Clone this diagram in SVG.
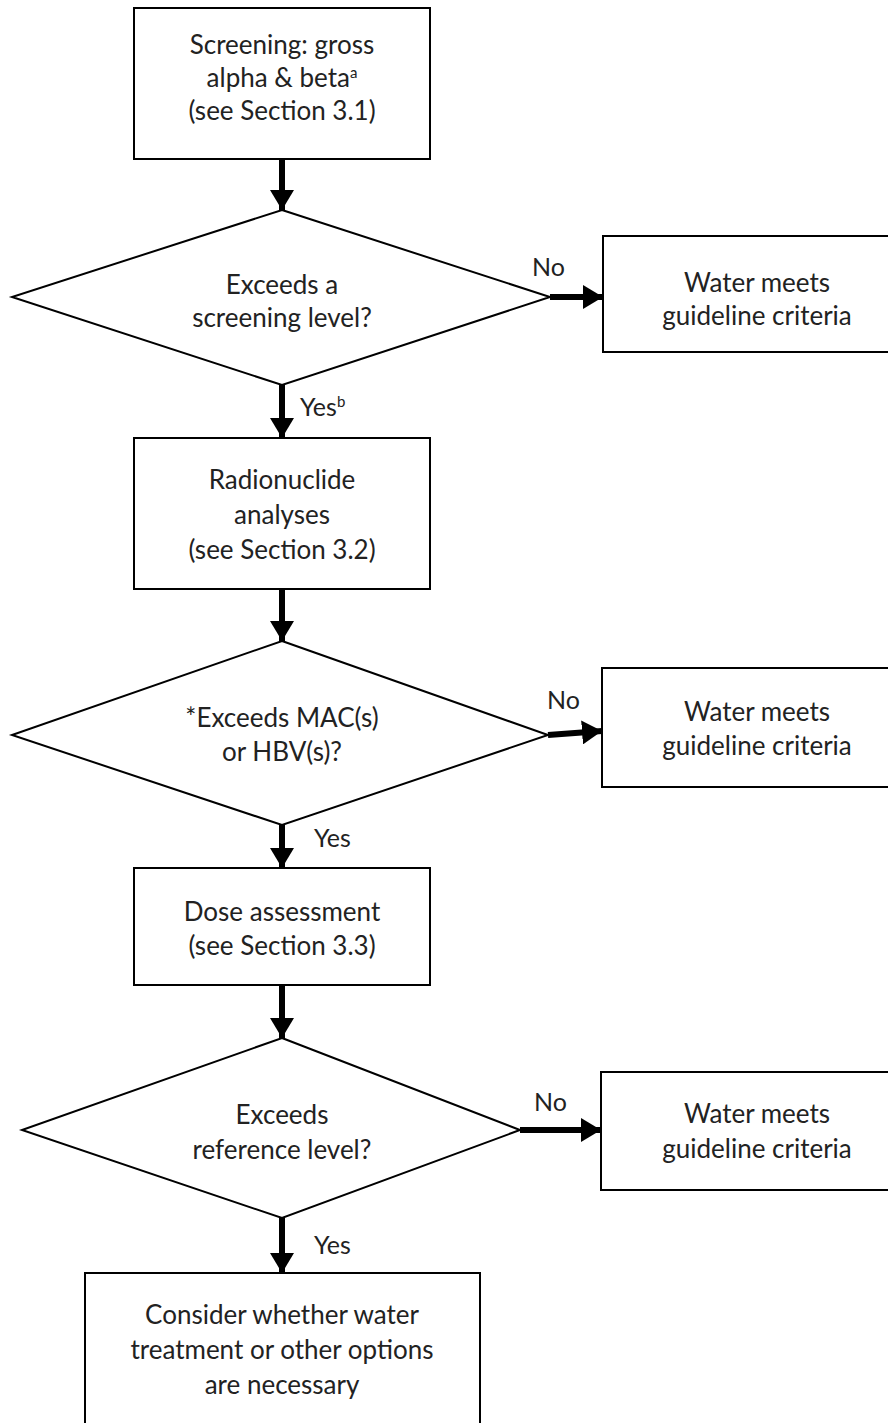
<svg xmlns="http://www.w3.org/2000/svg" width="888" height="1423" viewBox="0 0 888 1423">
<style>
.box{fill:#fff;stroke:#000;stroke-width:2}
.t{font-family:Lato,"Liberation Sans",sans-serif;font-size:26px;fill:#222;text-anchor:middle}
.l{font-family:Lato,"Liberation Sans",sans-serif;font-size:25px;fill:#222}
.sup{font-size:15px}
.c{stroke:#000;stroke-width:6;fill:none}
</style>
<defs>
<marker id="ah" markerUnits="userSpaceOnUse" markerWidth="22" markerHeight="24" refX="20" refY="12" orient="auto">
<path d="M0,0 L20,12 L0,24 z" fill="#000"/>
</marker>
</defs>
<g id="connectors">
<line class="c" x1="282" y1="159" x2="282" y2="210" marker-end="url(#ah)"/>
<line class="c" x1="550" y1="297" x2="603" y2="297" marker-end="url(#ah)"/>
<line class="c" x1="282" y1="385" x2="282" y2="438" marker-end="url(#ah)"/>
<line class="c" x1="282" y1="589" x2="282" y2="641" marker-end="url(#ah)"/>
<line class="c" x1="548" y1="735" x2="602" y2="731" marker-end="url(#ah)"/>
<line class="c" x1="282" y1="818" x2="282" y2="868" marker-end="url(#ah)"/>
<line class="c" x1="282" y1="985" x2="282" y2="1038" marker-end="url(#ah)"/>
<line class="c" x1="520" y1="1130" x2="601" y2="1130" marker-end="url(#ah)"/>
<line class="c" x1="282" y1="1218" x2="282" y2="1273" marker-end="url(#ah)"/>
<text class="l" x="532" y="276">No</text>
<text class="l" x="300" y="416">Yes<tspan class="sup" dy="-9">b</tspan></text>
<text class="l" x="547" y="709">No</text>
<text class="l" x="314" y="847">Yes</text>
<text class="l" x="534" y="1111">No</text>
<text class="l" x="314" y="1254">Yes</text>
</g>
<g id="screening">
<rect class="box" x="134" y="8" width="296" height="151"/>
<text class="t" x="282" y="54">Screening: gross</text>
<text class="t" x="282" y="87">alpha &amp; beta<tspan class="sup" dy="-9">a</tspan></text>
<text class="t" x="282" y="120">(see Section 3.1)</text>
</g>
<g id="decision1">
<polygon class="box" points="282,210 550,297 282,385 12,297"/>
<text class="t" x="282" y="294">Exceeds a</text>
<text class="t" x="282" y="327">screening level?</text>
</g>
<g id="meets1">
<rect class="box" x="603" y="236" width="290" height="116"/>
<text class="t" x="757" y="292">Water meets</text>
<text class="t" x="757" y="325">guideline criteria</text>
</g>
<g id="radionuclide">
<rect class="box" x="134" y="438" width="296" height="151"/>
<text class="t" x="282" y="489">Radionuclide</text>
<text class="t" x="282" y="524">analyses</text>
<text class="t" x="282" y="559">(see Section 3.2)</text>
</g>
<g id="decision2">
<polygon class="box" points="282,641 548,735 282,825 12,735"/>
<text class="t" x="282" y="727">*Exceeds MAC(s)</text>
<text class="t" x="282" y="761">or HBV(s)?</text>
</g>
<g id="meets2">
<rect class="box" x="602" y="668" width="290" height="119"/>
<text class="t" x="757" y="721">Water meets</text>
<text class="t" x="757" y="755">guideline criteria</text>
</g>
<g id="dose">
<rect class="box" x="134" y="868" width="296" height="117"/>
<text class="t" x="282" y="921">Dose assessment</text>
<text class="t" x="282" y="955">(see Section 3.3)</text>
</g>
<g id="decision3">
<polygon class="box" points="282,1038 520,1130 282,1218 22,1130"/>
<text class="t" x="282" y="1124">Exceeds</text>
<text class="t" x="282" y="1159">reference level?</text>
</g>
<g id="meets3">
<rect class="box" x="601" y="1072" width="290" height="118"/>
<text class="t" x="757" y="1123">Water meets</text>
<text class="t" x="757" y="1158">guideline criteria</text>
</g>
<g id="consider">
<rect class="box" x="85" y="1273" width="395" height="160"/>
<text class="t" x="282" y="1324">Consider whether water</text>
<text class="t" x="282" y="1359">treatment or other options</text>
<text class="t" x="282" y="1394">are necessary</text>
</g>
</svg>
